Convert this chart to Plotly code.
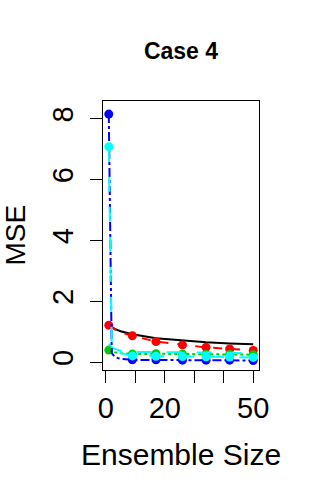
import plotly.graph_objects as go

# Data (line values, including a few early ensemble sizes)
ensemble_size = [1, 2, 3, 5, 9, 17, 26, 34, 42, 50]
black_vals = [1.22, 1.15, 1.10, 1.02, 0.92, 0.79, 0.71, 0.66, 0.62, 0.59]
red_vals = [1.22, 1.14, 1.08, 0.98, 0.87, 0.68, 0.57, 0.49, 0.44, 0.39]
green_vals = [0.40, 0.36, 0.33, 0.30, 0.27, 0.28, 0.27, 0.26, 0.26, 0.25]
blue_vals = [8.15, 0.30, 0.18, 0.11, 0.08, 0.08, 0.07, 0.07, 0.07, 0.06]
cyan_vals = [7.08, 0.55, 0.40, 0.30, 0.21, 0.20, 0.19, 0.18, 0.17, 0.16]
cyan2_vals = [0.60, 0.50, 0.44, 0.38, 0.34, 0.34, 0.33, 0.32, 0.31, 0.30]

# ensemble sizes at which points are plotted
point_sizes = [1, 9, 17, 26, 34, 42, 50]

x_tickvals = [0, 10, 20, 30, 40, 50]
x_ticktext = ["0", "", "20", "", "", "50"]
y_tickvals = [0, 2, 4, 6, 8]
y_ticktext = ["0", "2", "4", "6", "8"]

FONT = "Liberation Sans, Arial, Helvetica, sans-serif"

W, H = 312, 498
L, R, T, B = 103, 53, 101, 128


def pts(vals):
    xs = [x for x in ensemble_size if x in point_sizes]
    ys = [v for x, v in zip(ensemble_size, vals) if x in point_sizes]
    return xs, ys


fig = go.Figure()


def add_series(vals, color, dash, markers):
    fig.add_trace(go.Scatter(x=ensemble_size, y=vals, mode="lines",
                             line=dict(color=color, width=2, dash=dash)))
    if markers:
        xs, ys = pts(vals)
        fig.add_trace(go.Scatter(x=xs, y=ys, mode="markers",
                                 marker=dict(color=color, size=9)))


add_series(black_vals, "black", "solid", False)
add_series(red_vals, "#FF0000", "dash", True)
add_series(green_vals, "#00CD00", "dot", True)
add_series(cyan2_vals, "#00FFFF", "longdash", False)
add_series(blue_vals, "#0000FF", "dashdot", True)
add_series(cyan_vals, "#00FFFF", "longdash", True)

fig.update_layout(
    width=W, height=H,
    margin=dict(l=L, r=R, t=T, b=B, autoexpand=False),
    paper_bgcolor="white", plot_bgcolor="white",
    showlegend=False,
    font=dict(family=FONT, color="black"),
    title=dict(text="<b>Case 4</b>", x=(L + (W - R)) / 2 / W, xanchor="center",
               y=1 - 51 / H, yanchor="middle", yref="container",
               font=dict(size=23, family=FONT, color="black")),
    xaxis=dict(range=[-0.96, 51.96], tickmode="array", tickvals=x_tickvals,
               ticktext=x_ticktext, ticks="outside", ticklen=12, tickwidth=1,
               tickcolor="black", showline=True, mirror=True, linecolor="black",
               linewidth=1, showgrid=False, zeroline=False, automargin=False,
               tickfont=dict(size=29, family=FONT, color="black")),
    yaxis=dict(range=[-0.253, 8.58], tickmode="array", tickvals=y_tickvals,
               ticktext=y_ticktext, ticks="outside", ticklen=12, tickwidth=1,
               tickcolor="black", showline=True, mirror=True, linecolor="black",
               linewidth=1, showgrid=False, zeroline=False, tickangle=-90,
               automargin=False, ticklabelstandoff=5,
               tickfont=dict(size=29, family=FONT, color="black")),
    annotations=[
        dict(text="Ensemble Size", xref="paper", yref="paper", x=0.5, y=0,
             yshift=-84, xanchor="center", yanchor="middle",
             showarrow=False, font=dict(size=30, family=FONT, color="black")),
        dict(text="MSE", xref="paper", yref="paper", x=0, y=0.5,
             xshift=-88, xanchor="center", yanchor="middle", textangle=-90,
             showarrow=False, font=dict(size=28, family=FONT, color="black")),
    ],
)

fig.write_html(
    "out.html",
    config={"displayModeBar": False},
    post_script="document.body.style.margin='0px';document.body.style.overflow='hidden';",
)
